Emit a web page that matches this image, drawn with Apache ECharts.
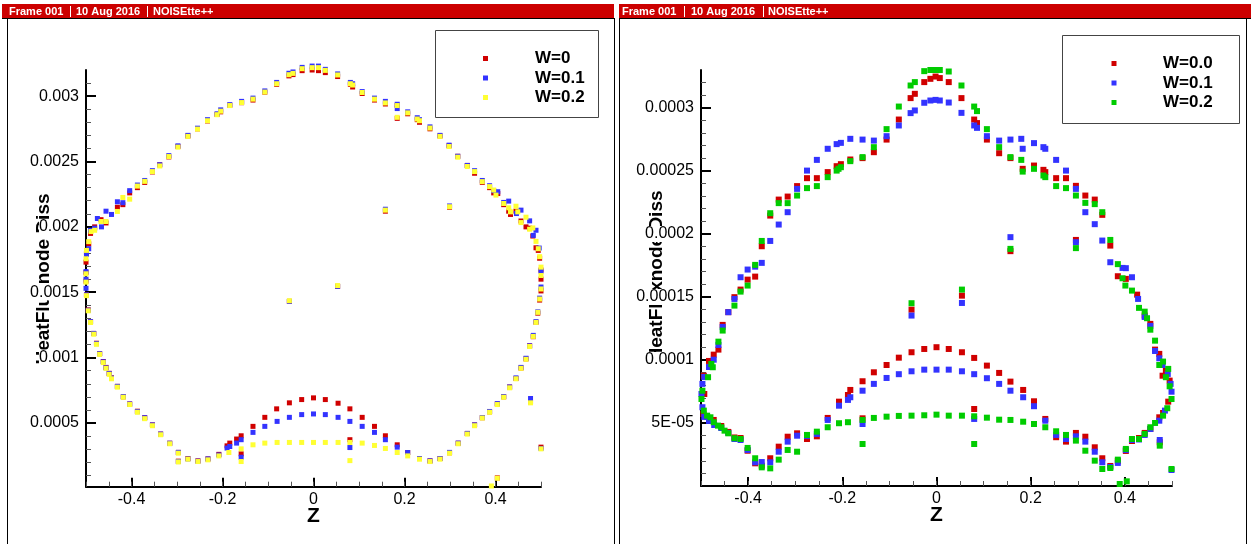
<!DOCTYPE html>
<html><head><meta charset="utf-8">
<script src="https://cdn.jsdelivr.net/npm/echarts@6/dist/echarts.min.js"></script>
<style>html,body{margin:0;padding:0;background:#fff;overflow:hidden}#c{width:1253px;height:544px}</style>
</head><body><div id="c"></div>
<script>
// ---------- DATA ----------
const leftSeriesNames = ['W=0', 'W=0.1', 'W=0.2'];
const rightSeriesNames = ['W=0.0', 'W=0.1', 'W=0.2'];

const leftW0 = [[-0.5,17.3e-4],[-0.499,18.0e-4],[-0.494,18.7e-4],[-0.49,19.5e-4],[-0.481,20.0e-4],[-0.467,20.55e-4],[-0.456,20.3e-4],[-0.431,21.5e-4],[-0.419,21.7e-4],[-0.404,22.6e-4],[-0.387,23.0e-4],[-0.371,23.4e-4],[-0.354,24.2e-4],[-0.338,24.75e-4],[-0.318,25.35e-4],[-0.298,26.15e-4],[-0.276,26.95e-4],[-0.255,27.5e-4],[-0.233,28.1e-4],[-0.212,28.6e-4],[-0.204,28.8e-4],[-0.184,29.3e-4],[-0.158,29.5e-4],[-0.133,29.7e-4],[-0.107,30.3e-4],[-0.081,30.9e-4],[-0.054,31.55e-4],[-0.045,31.65e-4],[-0.025,31.95e-4],[-0.003,32.0e-4],[0.011,31.95e-4],[0.026,31.8e-4],[0.053,31.5e-4],[0.081,30.9e-4],[0.086,30.7e-4],[0.107,30.2e-4],[0.134,29.7e-4],[0.158,29.4e-4],[0.184,29.3e-4],[0.207,28.65e-4],[0.228,28.2e-4],[0.233,28.0e-4],[0.256,27.5e-4],[0.278,26.95e-4],[0.298,26.2e-4],[0.317,25.4e-4],[0.338,24.7e-4],[0.354,24.1e-4],[0.371,23.4e-4],[0.387,23.0e-4],[0.396,22.6e-4],[0.405,22.55e-4],[0.418,21.7e-4],[0.429,21.2e-4],[0.433,20.95e-4],[0.445,21.2e-4],[0.456,20.45e-4],[0.467,20.0e-4],[0.475,19.9e-4],[0.482,19.3e-4],[0.489,18.4e-4],[0.494,18.2e-4],[0.497,17.6e-4],[0.5,16.7e-4],
[0.5,16.0e-4],[0.5,15.1e-4],[0.497,14.4e-4],[0.493,13.4e-4],[0.489,12.7e-4],[0.483,11.6e-4],[0.475,10.9e-4],[0.467,9.9e-4],[0.456,9.2e-4],[0.445,8.4e-4],[0.431,7.75e-4],[0.418,7.0e-4],[0.404,6.45e-4],[0.387,5.85e-4],[0.371,5.4e-4],[0.354,4.85e-4],[0.338,4.2e-4],[0.318,3.45e-4],[0.299,2.72e-4],[0.278,2.28e-4],[0.256,2.1e-4],[0.233,2.28e-4],
[0.207,2.74e-4],[0.184,3.33e-4],[0.158,4.02e-4],[0.134,4.74e-4],[0.107,5.43e-4],[0.080,6.08e-4],[0.054,6.51e-4],[0.026,6.79e-4],[0,6.92e-4],[-0.026,6.79e-4],[-0.053,6.54e-4],[-0.081,6.08e-4],[-0.107,5.43e-4],[-0.133,4.74e-4],[-0.159,4.02e-4],[-0.169,3.77e-4],[-0.184,3.46e-4],[-0.190,3.25e-4],[-0.159,2.64e-4],[-0.208,2.6e-4],[-0.232,2.25e-4],[-0.254,2.1e-4],[-0.276,2.28e-4],[-0.297,2.75e-4],[-0.297,2.08e-4],[-0.316,3.45e-4],[-0.336,4.15e-4],[-0.354,4.85e-4],[-0.371,5.4e-4],[-0.387,5.9e-4],[-0.404,6.45e-4],[-0.418,7.0e-4],[-0.431,7.8e-4],[-0.444,8.45e-4],[-0.449,8.8e-4],[-0.456,9.25e-4],[-0.462,9.7e-4],[-0.470,10.3e-4],[-0.477,11.1e-4],[-0.483,11.85e-4],[-0.490,12.75e-4],[-0.495,13.65e-4],[-0.499,14.8e-4],[-0.5,15.85e-4],[-0.5,16.5e-4],
[-0.053,14.3e-4],[0.053,15.45e-4],[0.158,21.2e-4],[0.299,21.5e-4],[0.184,28.3e-4],[0.477,6.6e-4],[0.5,3.15e-4],[0.080,3.72e-4],[0.404,0.8e-4]];

const leftW01 = [[-0.5,16.58e-4],[-0.499,17.9e-4],[-0.494,18.33e-4],[-0.49,19.74e-4],[-0.481,19.9e-4],[-0.475,20.64e-4],[-0.466,20.0e-4],[-0.456,21.2e-4],[-0.444,20.95e-4],[-0.431,21.92e-4],[-0.419,21.85e-4],[-0.404,22.77e-4],[-0.387,23.2e-4],[-0.371,23.55e-4],[-0.354,24.3e-4],[-0.338,24.75e-4],[-0.318,25.45e-4],[-0.298,26.2e-4],[-0.276,27.0e-4],[-0.255,27.55e-4],[-0.233,28.2e-4],[-0.212,28.65e-4],[-0.204,28.95e-4],[-0.184,29.35e-4],[-0.158,29.6e-4],[-0.133,29.85e-4],[-0.107,30.4e-4],[-0.081,31.05e-4],[-0.054,31.75e-4],[-0.045,31.85e-4],[-0.025,32.2e-4],[-0.003,32.3e-4],[0.011,32.3e-4],[0.026,32.05e-4],[0.053,31.7e-4],[0.081,31.05e-4],[0.086,30.95e-4],[0.107,30.35e-4],[0.134,29.85e-4],[0.158,29.6e-4],[0.184,29.38e-4],[0.207,28.8e-4],[0.228,28.35e-4],[0.233,28.2e-4],[0.256,27.65e-4],[0.278,27.0e-4],[0.298,26.25e-4],[0.317,25.4e-4],[0.338,24.7e-4],[0.354,24.3e-4],[0.371,23.55e-4],[0.387,23.15e-4],[0.396,22.77e-4],[0.405,22.69e-4],[0.418,21.87e-4],[0.429,21.97e-4],[0.446,21.02e-4],[0.456,21.28e-4],[0.475,20.46e-4],[0.483,19.35e-4],[0.489,19.74e-4],[0.496,18.38e-4],[0.5,16.62e-4],
[0.5,15.4e-4],[0.497,14.55e-4],[0.493,13.5e-4],[0.489,12.75e-4],[0.483,11.7e-4],[0.475,10.9e-4],[0.467,9.95e-4],[0.456,9.25e-4],[0.445,8.45e-4],[0.431,7.75e-4],[0.418,7.02e-4],[0.404,6.48e-4],[0.387,5.88e-4],[0.371,5.42e-4],[0.354,4.85e-4],[0.338,4.2e-4],[0.318,3.46e-4],[0.299,2.75e-4],[0.278,2.28e-4],[0.256,2.1e-4],[0.233,2.28e-4],
[0.207,2.74e-4],[0.184,3.15e-4],[0.158,3.72e-4],[0.134,4.28e-4],[0.107,4.74e-4],[0.080,5.12e-4],[0.054,5.43e-4],[0.026,5.64e-4],[0,5.69e-4],[-0.026,5.64e-4],[-0.053,5.43e-4],[-0.080,5.12e-4],[-0.107,4.74e-4],[-0.133,4.28e-4],[-0.159,3.72e-4],[-0.169,3.46e-4],[-0.184,3.2e-4],[-0.190,3.08e-4],[-0.159,2.38e-4],[-0.208,2.55e-4],[-0.232,2.25e-4],[-0.254,2.08e-4],[-0.276,2.25e-4],[-0.297,2.75e-4],[-0.297,2.05e-4],[-0.316,3.45e-4],[-0.336,4.15e-4],[-0.354,4.85e-4],[-0.371,5.4e-4],[-0.387,5.87e-4],[-0.404,6.45e-4],[-0.418,7.02e-4],[-0.431,7.8e-4],[-0.444,8.43e-4],[-0.449,8.78e-4],[-0.456,9.22e-4],[-0.462,9.68e-4],[-0.470,10.3e-4],[-0.477,11.07e-4],[-0.483,11.85e-4],[-0.490,12.75e-4],[-0.495,13.62e-4],[-0.499,14.8e-4],[-0.5,15.3e-4],[-0.5,16.0e-4],
[-0.053,14.3e-4],[0.053,15.45e-4],[0.158,21.35e-4],[0.299,21.6e-4],[0.184,29.05e-4],[0.477,6.87e-4],[0.5,3.05e-4],[0.080,3.12e-4]];

const leftW02 = [[-0.5,17.56e-4],[-0.499,18.20e-4],[-0.494,18.87e-4],[-0.489,19.64e-4],[-0.481,19.74e-4],[-0.467,20.41e-4],[-0.456,20.41e-4],[-0.431,21.18e-4],[-0.419,22.25e-4],[-0.404,22.12e-4],[-0.387,23.12e-4],[-0.371,23.48e-4],[-0.354,24.23e-4],[-0.338,24.66e-4],[-0.318,25.38e-4],[-0.298,26.10e-4],[-0.276,26.92e-4],[-0.255,27.48e-4],[-0.233,28.12e-4],[-0.212,28.58e-4],[-0.204,28.85e-4],[-0.184,29.28e-4],[-0.158,29.51e-4],[-0.133,29.77e-4],[-0.107,30.31e-4],[-0.081,30.95e-4],[-0.054,31.64e-4],[-0.045,31.74e-4],[-0.025,32.10e-4],[-0.003,32.18e-4],[0.011,32.18e-4],[0.026,31.97e-4],[0.053,31.62e-4],[0.081,30.95e-4],[0.086,30.85e-4],[0.107,30.28e-4],[0.134,29.77e-4],[0.158,29.48e-4],[0.184,29.28e-4],[0.207,28.72e-4],[0.228,28.25e-4],[0.233,28.12e-4],[0.256,27.56e-4],[0.278,26.92e-4],[0.298,26.15e-4],[0.317,25.33e-4],[0.338,24.62e-4],[0.354,24.23e-4],[0.371,23.46e-4],[0.387,23.08e-4],[0.396,22.82e-4],[0.401,22.43e-4],[0.418,21.79e-4],[0.429,21.46e-4],[0.433,21.15e-4],[0.445,21.58e-4],[0.449,21.15e-4],[0.456,20.33e-4],[0.467,20.74e-4],[0.475,19.82e-4],[0.482,19.92e-4],[0.489,18.89e-4],[0.494,18.33e-4],[0.497,17.72e-4],[0.5,16.92e-4],[0.5,16.28e-4],
[0.5,15.25e-4],[0.497,14.48e-4],[0.493,13.46e-4],[0.489,12.69e-4],[0.483,11.62e-4],[0.475,10.85e-4],[0.467,9.87e-4],[0.456,9.18e-4],[0.445,8.38e-4],[0.431,7.69e-4],[0.418,6.97e-4],[0.404,6.41e-4],[0.387,5.82e-4],[0.371,5.38e-4],[0.354,4.79e-4],[0.338,4.15e-4],[0.318,3.41e-4],[0.299,2.69e-4],[0.278,2.23e-4],[0.256,2.05e-4],[0.233,2.23e-4],[0.207,2.48e-4],[0.184,2.74e-4],[0.158,3.05e-4],[0.134,3.28e-4],[0.107,3.46e-4],[0.080,3.51e-4],[0.054,3.51e-4],[0.026,3.51e-4],[0,3.51e-4],[-0.026,3.51e-4],[-0.053,3.51e-4],[-0.080,3.51e-4],[-0.107,3.46e-4],[-0.133,3.33e-4],[-0.159,3.02e-4],[-0.159,2.05e-4],[-0.186,2.74e-4],[-0.208,2.48e-4],[-0.232,2.18e-4],[-0.254,2.05e-4],[-0.276,2.23e-4],[-0.297,2.69e-4],[-0.297,2.02e-4],[-0.316,3.41e-4],[-0.336,4.10e-4],[-0.354,4.79e-4],[-0.371,5.33e-4],[-0.387,5.82e-4],[-0.404,6.41e-4],[-0.418,6.97e-4],[-0.431,7.74e-4],[-0.444,8.38e-4],[-0.449,8.72e-4],[-0.456,9.18e-4],[-0.462,9.62e-4],[-0.470,10.25e-4],[-0.477,11.02e-4],[-0.483,11.79e-4],[-0.490,12.69e-4],[-0.495,13.58e-4],[-0.499,14.74e-4],[-0.5,15.77e-4],[-0.5,16.41e-4],
[-0.053,14.35e-4],[0.053,15.51e-4],[0.158,21.28e-4],[0.299,21.54e-4],[0.184,28.38e-4],[0.477,6.54e-4],[0.5,3.02e-4],[0.080,2.12e-4],[0.404,0.77e-4],[0.391,0.18e-4]];

const rightW00 = [[-0.494,8.75e-5],[-0.493,7.30e-5],[-0.495,5.71e-5],[-0.487,5.48e-5],[-0.473,5.24e-5],[-0.457,4.76e-5],[-0.442,4.29e-5],[-0.429,3.85e-5],[-0.416,3.81e-5],[-0.401,2.80e-5],[-0.385,1.80e-5],[-0.371,1.61e-5],[-0.353,2.20e-5],[-0.335,3.12e-5],[-0.316,3.91e-5],[-0.296,4.18e-5],[-0.275,3.73e-5],[-0.254,3.94e-5],[-0.231,5.40e-5],[-0.207,6.69e-5],[-0.188,7.22e-5],[-0.183,7.62e-5],[-0.157,8.31e-5],[-0.133,9.02e-5],[-0.106,9.60e-5],[-0.080,10.18e-5],[-0.053,10.61e-5],[-0.026,10.87e-5],[0,11.01e-5],[0.026,10.87e-5],[0.054,10.61e-5],[0.080,10.16e-5],[0.107,9.55e-5],[0.133,8.97e-5],[0.157,8.28e-5],[0.184,7.62e-5],[0.207,6.72e-5],[0.231,5.32e-5],[0.254,3.87e-5],[0.275,3.52e-5],[0.296,4.21e-5],[0.316,3.91e-5],[0.336,3.07e-5],[0.352,2.20e-5],[0.369,1.59e-5],[0.385,1.98e-5],[0.402,2.78e-5],[0.415,3.57e-5],[0.430,3.81e-5],[0.442,4.21e-5],[0.454,4.52e-5],[0.473,5.45e-5],[0.481,5.79e-5],[0.492,6.69e-5],[0.495,8.36e-5],[0.480,8.75e-5],[0.487,9.13e-5],[0.473,10.48e-5],[0.464,10.82e-5],[0.454,12.86e-5],[0.442,13.52e-5],[0.426,15.18e-5],[0.402,16.43e-5],[0.385,16.64e-5],[0.369,19.07e-5],[0.352,21.51e-5],[0.336,22.72e-5],[0.316,23.04e-5],[0.296,23.81e-5],[0.275,24.42e-5],[0.254,24.42e-5],[0.231,24.90e-5],[0.227,25.08e-5],[0.207,25.42e-5],[0.183,25.16e-5],[0.157,26.01e-5],[0.133,26.40e-5],[0.107,27.48e-5],[0.086,28.79e-5],[0.080,29.07e-5],[0.053,30.77e-5],[0.026,32.04e-5],[0.007,32.36e-5],[-0.002,32.48e-5],[-0.013,32.30e-5],[-0.026,32.04e-5],[-0.046,31.11e-5],[-0.055,30.77e-5],[-0.080,29.07e-5],[-0.106,27.48e-5],[-0.133,26.48e-5],[-0.157,26.01e-5],[-0.183,25.90e-5],[-0.203,25.53e-5],[-0.212,25.37e-5],[-0.231,24.90e-5],[-0.254,24.42e-5],[-0.275,24.42e-5],[-0.296,23.79e-5],[-0.316,22.96e-5],[-0.335,22.72e-5],[-0.353,21.45e-5],[-0.371,19.02e-5],[-0.385,16.61e-5],[-0.401,16.37e-5],[-0.416,15.58e-5],[-0.429,14.98e-5],[-0.442,13.79e-5],[-0.454,12.78e-5],[-0.463,10.82e-5],[-0.473,10.42e-5],[-0.483,9.92e-5],
[0.054,15.10e-5],[0.080,6.11e-5],[0.157,18.63e-5],[0.296,19.52e-5],[-0.053,13.99e-5],[-0.157,5.37e-5],[0.474,3.47e-5]];

const rightW01 = [[-0.497,8.10e-5],[-0.499,7.30e-5],[-0.497,6.25e-5],[-0.493,5.48e-5],[-0.483,5.16e-5],[-0.472,4.84e-5],[-0.457,4.60e-5],[-0.442,4.21e-5],[-0.429,3.73e-5],[-0.416,3.65e-5],[-0.401,2.86e-5],[-0.385,1.88e-5],[-0.371,1.90e-5],[-0.353,1.88e-5],[-0.335,2.72e-5],[-0.316,3.52e-5],[-0.296,3.99e-5],[-0.275,3.97e-5],[-0.254,4.13e-5],[-0.231,5.24e-5],[-0.207,6.37e-5],[-0.188,6.83e-5],[-0.183,7.04e-5],[-0.157,7.56e-5],[-0.133,8.10e-5],[-0.106,8.57e-5],[-0.080,8.87e-5],[-0.053,9.10e-5],[-0.026,9.23e-5],[0,9.23e-5],[0.026,9.23e-5],[0.054,9.10e-5],[0.080,8.87e-5],[0.107,8.55e-5],[0.133,8.10e-5],[0.157,7.56e-5],[0.184,7.04e-5],[0.207,6.33e-5],[0.231,5.18e-5],[0.254,4.05e-5],[0.275,3.73e-5],[0.296,3.94e-5],[0.316,3.52e-5],[0.336,2.72e-5],[0.352,1.88e-5],[0.369,1.51e-5],[0.385,1.83e-5],[0.402,2.86e-5],[0.415,3.65e-5],[0.430,3.69e-5],[0.442,4.05e-5],[0.454,4.52e-5],[0.473,5.18e-5],[0.485,5.98e-5],[0.499,7.48e-5],[0.497,8.10e-5],[0.491,8.89e-5],[0.480,9.60e-5],[0.473,10.13e-5],[0.464,10.71e-5],[0.454,12.70e-5],[0.442,13.41e-5],[0.428,14.84e-5],[0.415,16.56e-5],[0.402,17.28e-5],[0.395,17.30e-5],[0.369,17.75e-5],[0.352,19.47e-5],[0.336,20.77e-5],[0.316,21.72e-5],[0.296,23.57e-5],[0.275,25.02e-5],[0.254,25.87e-5],[0.231,26.75e-5],[0.227,26.88e-5],[0.207,27.20e-5],[0.183,26.75e-5],[0.180,27.54e-5],[0.157,27.48e-5],[0.133,27.40e-5],[0.107,27.75e-5],[0.086,28.41e-5],[0.080,28.60e-5],[0.053,29.60e-5],[0.026,30.42e-5],[0.007,30.58e-5],[-0.002,30.63e-5],[-0.013,30.58e-5],[-0.026,30.40e-5],[-0.046,29.79e-5],[-0.055,29.58e-5],[-0.080,28.60e-5],[-0.106,27.75e-5],[-0.133,27.40e-5],[-0.157,27.48e-5],[-0.183,27.54e-5],[-0.203,27.22e-5],[-0.212,27.12e-5],[-0.231,26.75e-5],[-0.254,25.87e-5],[-0.275,25.02e-5],[-0.296,23.57e-5],[-0.316,21.72e-5],[-0.335,20.74e-5],[-0.353,19.44e-5],[-0.371,17.70e-5],[-0.385,17.40e-5],[-0.401,17.17e-5],[-0.416,16.56e-5],[-0.429,14.84e-5],[-0.442,13.79e-5],[-0.454,12.62e-5],[-0.463,11.19e-5],[-0.473,10.02e-5],[-0.483,9.44e-5],[-0.493,8.65e-5],
[0.054,14.52e-5],[0.080,5.32e-5],[0.157,19.74e-5],[0.296,19.34e-5],[-0.053,13.52e-5],[-0.157,4.92e-5],[0.499,1.27e-5],[0.474,3.65e-5]];

const rightW02 = [[-0.497,7.56e-5],[-0.499,6.90e-5],[-0.494,5.98e-5],[-0.487,5.58e-5],[-0.480,5.45e-5],[-0.473,5.06e-5],[-0.464,4.79e-5],[-0.457,4.66e-5],[-0.450,4.39e-5],[-0.442,4.18e-5],[-0.429,3.79e-5],[-0.416,3.73e-5],[-0.401,3.02e-5],[-0.385,2.20e-5],[-0.371,1.48e-5],[-0.353,1.40e-5],[-0.335,2.09e-5],[-0.316,2.86e-5],[-0.296,2.72e-5],[-0.275,4.05e-5],[-0.254,4.31e-5],[-0.231,4.66e-5],[-0.207,4.98e-5],[-0.188,5.06e-5],[-0.157,5.24e-5],[-0.133,5.40e-5],[-0.106,5.50e-5],[-0.080,5.56e-5],[-0.053,5.58e-5],[-0.026,5.61e-5],[0,5.66e-5],[0.026,5.58e-5],[0.054,5.58e-5],[0.080,5.53e-5],[0.107,5.42e-5],[0.133,5.26e-5],[0.157,5.24e-5],[0.184,5.10e-5],[0.207,4.92e-5],[0.231,4.66e-5],[0.254,4.34e-5],[0.275,4.05e-5],[0.296,3.60e-5],[0.316,2.80e-5],[0.336,2.01e-5],[0.352,1.35e-5],[0.369,1.43e-5],[0.385,2.09e-5],[0.402,2.94e-5],[0.415,3.73e-5],[0.430,3.73e-5],[0.442,4.13e-5],[0.454,4.66e-5],[0.464,5.00e-5],[0.481,5.58e-5],[0.490,6.17e-5],[0.499,6.90e-5],[0.495,7.91e-5],[0.487,8.63e-5],[0.492,9.29e-5],[0.481,9.87e-5],[0.473,9.60e-5],[0.464,11.53e-5],[0.454,12.40e-5],[0.447,13.31e-5],[0.442,13.83e-5],[0.430,14.13e-5],[0.415,15.50e-5],[0.401,15.90e-5],[0.395,16.48e-5],[0.385,17.60e-5],[0.369,19.52e-5],[0.352,21.72e-5],[0.336,22.36e-5],[0.316,22.46e-5],[0.296,23.04e-5],[0.275,23.63e-5],[0.254,23.79e-5],[0.231,24.50e-5],[0.227,24.63e-5],[0.207,25.16e-5],[0.183,24.94e-5],[0.180,25.87e-5],[0.157,26.09e-5],[0.133,26.88e-5],[0.107,28.31e-5],[0.086,29.74e-5],[0.080,30.10e-5],[0.053,31.77e-5],[0.026,32.88e-5],[0.007,33.0e-5],[-0.002,33.0e-5],[-0.013,33.0e-5],[-0.026,32.91e-5],[-0.046,32.04e-5],[-0.055,31.77e-5],[-0.080,30.10e-5],[-0.106,28.31e-5],[-0.133,26.88e-5],[-0.157,26.09e-5],[-0.183,25.77e-5],[-0.203,25.29e-5],[-0.208,25.16e-5],[-0.212,25.02e-5],[-0.231,24.50e-5],[-0.254,23.79e-5],[-0.275,23.63e-5],[-0.296,23.04e-5],[-0.316,22.44e-5],[-0.335,22.44e-5],[-0.353,21.64e-5],[-0.371,19.44e-5],[-0.385,17.54e-5],[-0.401,15.90e-5],[-0.416,15.42e-5],[-0.429,14.31e-5],[-0.454,12.33e-5],[-0.463,11.45e-5],[-0.478,9.68e-5],[-0.475,9.42e-5],[-0.485,8.63e-5],
[0.054,15.58e-5],[0.080,3.33e-5],[0.157,18.81e-5],[0.296,18.87e-5],[-0.053,14.50e-5],[-0.157,3.33e-5],[0.474,3.20e-5],[0.499,1.35e-5],[0.389,0.16e-5],[0.404,0.37e-5]];

const xTicks = [-0.4, -0.2, 0, 0.2, 0.4];
const xTickLabels = ['-0.4', '-0.2', '0', '0.2', '0.4'];
const leftYTicks = [0.0005, 0.001, 0.0015, 0.002, 0.0025, 0.003];
const leftYTickLabels = ['0.0005', '0.001', '0.0015', '0.002', '0.0025', '0.003'];
const rightYTicks = [0.00005, 0.0001, 0.00015, 0.0002, 0.00025, 0.0003];
const rightYTickLabels = ['5E-05', '0.0001', '0.00015', '0.0002', '0.00025', '0.0003'];
const xTitle = 'Z';
const yTitle = 'HeatFluxnode Diss';
const headerParts = ['Frame 001', '10 Aug 2016', 'NOISEtte++'];

// ---------- STYLE ----------
const FONT = "'Liberation Sans', Arial, Helvetica, sans-serif";
const COL = { red: '#d00000', blue: '#3333ff', yellow: '#ffff33', green: '#00cc00', bar: '#cc0000' };

function labelFmt(ticks, labels) {
  return function (v) {
    for (let i = 0; i < ticks.length; i++) if (Math.abs(v - ticks[i]) < Math.abs(ticks[i]) * 1e-6 + 1e-15) return labels[i];
    return '';
  };
}
function minorList(step, count, majorEvery) {
  const out = [];
  for (let k = 1; k <= count; k++) if (k % majorEvery !== 0) out.push(+(k * step).toPrecision(6));
  return out;
}
const leftYMinor = minorList(0.0001, 31, 5);
const rightYMinor = minorList(0.00001, 32, 5);

function majorX(grid) {
  return {
    gridIndex: grid, type: 'value', position: 'bottom', min: -0.5, max: 0.5,
    axisLine: { show: true, onZero: false, lineStyle: { color: '#000', width: 2 } },
    axisTick: { show: true, inside: true, length: 9, customValues: xTicks, lineStyle: { color: '#000', width: 2 } },
    axisLabel: { customValues: xTicks, formatter: labelFmt(xTicks, xTickLabels), color: '#000', fontSize: 16, fontFamily: FONT, margin: 5 },
    splitLine: { show: false },
    name: xTitle, nameLocation: 'middle', nameGap: 19, nameMoveOverlap: false,
    nameTextStyle: { fontSize: 21, fontWeight: 'bold', color: '#000', fontFamily: FONT }
  };
}
function minorX(grid) {
  return {
    gridIndex: grid, type: 'value', position: 'bottom', min: -0.5, max: 0.5, interval: 0.05,
    axisLine: { show: false, onZero: false }, axisLabel: { show: false }, splitLine: { show: false },
    axisTick: { show: true, inside: true, length: 5, lineStyle: { color: '#555', width: 1 } }
  };
}
function majorY(grid, min, max, ticks, labels) {
  return {
    gridIndex: grid, type: 'value', position: 'left', min: min, max: max,
    axisLine: { show: true, onZero: false, lineStyle: { color: '#000', width: 2 } },
    axisTick: { show: true, inside: true, length: 10, customValues: ticks, lineStyle: { color: '#000', width: 2 } },
    axisLabel: { customValues: ticks, formatter: labelFmt(ticks, labels), color: '#000', fontSize: 16, fontFamily: FONT, margin: 7,
                 backgroundColor: '#fff', padding: [0, 0, 0, 0] },
    splitLine: { show: false }
  };
}
function minorY(grid, min, max, ticks) {
  return {
    gridIndex: grid, type: 'value', position: 'left', min: min, max: max,
    axisLine: { show: false, onZero: false }, axisLabel: { show: false }, splitLine: { show: false },
    axisTick: { show: true, inside: true, length: 5, customValues: ticks, lineStyle: { color: '#555', width: 1 } }
  };
}
function toPts(arr) { return arr.map(p => [p[0], p[1]]); }
function sc(name, data, color, xi, yi, size) {
  return { name: name, type: 'scatter', data: toPts(data), xAxisIndex: xi, yAxisIndex: yi, symbol: 'rect', symbolSize: size,
           clip: false, itemStyle: { color: color, opacity: 1 }, silent: true, animation: false };
}

// header / frames / legends / y titles as graphic
function header(x0, w, xs, seps) {
  const els = [];
  els.push({ type: 'rect', shape: { x: x0, y: 4, width: w, height: 14 }, style: { fill: COL.bar }, z: 10 });
  els.push({ type: 'line', shape: { x1: x0, y1: 18.5, x2: x0 + w, y2: 18.5 }, style: { stroke: '#000', lineWidth: 1 }, z: 11 });
  headerParts.forEach((t, i) => els.push({ type: 'text', x: xs[i], y: 11.5, style: { text: t, fill: '#fff', font: 'bold 11px ' + FONT, textVerticalAlign: 'middle', textAlign: 'left' }, z: 12 }));
  seps.forEach(s => els.push({ type: 'line', shape: { x1: s + 0.5, y1: 6, x2: s + 0.5, y2: 17 }, style: { stroke: '#fff', lineWidth: 1 }, z: 12 }));
  return els;
}
function legend(x, y, w, h, mx, tx, ys, names, colors) {
  const els = [{ type: 'rect', shape: { x: x + 0.5, y: y + 0.5, width: w, height: h }, style: { fill: '#fff', stroke: '#444', lineWidth: 1 }, z: 20 }];
  names.forEach((n, i) => {
    els.push({ type: 'rect', shape: { x: mx - 2.5, y: ys[i] - 2.5, width: 5, height: 5 }, style: { fill: colors[i] }, z: 21 });
    els.push({ type: 'text', x: tx, y: ys[i], style: { text: n, fill: '#000', font: 'bold 17px ' + FONT, textVerticalAlign: 'middle', textAlign: 'left' }, z: 21 });
  });
  return els;
}
function yName(cx, cy) {
  return { type: 'text', x: cx, y: cy, rotation: Math.PI / 2, z: -5,
           style: { text: yTitle, fill: '#000', font: 'bold 19px ' + FONT, textAlign: 'center', textVerticalAlign: 'middle' } };
}

const graphics = [].concat(
  [yName(44, 279), yName(657, 276),
   { type: 'line', shape: { x1: 7.5, y1: 18, x2: 7.5, y2: 544 }, style: { stroke: '#000', lineWidth: 1 } },
   { type: 'line', shape: { x1: 614.5, y1: 18, x2: 614.5, y2: 544 }, style: { stroke: '#000', lineWidth: 1 } },
   { type: 'line', shape: { x1: 619.5, y1: 18, x2: 619.5, y2: 544 }, style: { stroke: '#000', lineWidth: 1 } },
   { type: 'line', shape: { x1: 1246.5, y1: 18, x2: 1246.5, y2: 544 }, style: { stroke: '#000', lineWidth: 1 } }],
  header(2, 612, [9, 76, 153], [70, 147]),
  header(619, 632, [622, 691, 768], [684, 763]),
  legend(435, 30, 163, 87, 485.5, 535, [58.5, 78, 97.5], leftSeriesNames, [COL.red, COL.blue, COL.yellow]),
  legend(1062, 35, 177, 88, 1114, 1163, [63.5, 83, 102.5], rightSeriesNames, [COL.red, COL.blue, COL.green])
);

const option = {
  backgroundColor: '#fff',
  animation: false,
  grid: [
    { left: 86, top: 70, width: 455, height: 416.7 },
    { left: 701, top: 70, width: 471, height: 416 }
  ],
  xAxis: [majorX(0), minorX(0), majorX(1), minorX(1)],
  yAxis: [
    majorY(0, 0.0000125, 0.0032, leftYTicks, leftYTickLabels),
    minorY(0, 0.0000125, 0.0032, leftYMinor),
    majorY(1, 0, 0.00033, rightYTicks, rightYTickLabels),
    minorY(1, 0, 0.00033, rightYMinor)
  ],
  series: [
    sc(leftSeriesNames[0], leftW0, COL.red, 0, 0, 5),
    sc(leftSeriesNames[1], leftW01, COL.blue, 0, 0, 5),
    sc(leftSeriesNames[2], leftW02, COL.yellow, 0, 0, 5),
    sc(rightSeriesNames[0], rightW00, COL.red, 2, 2, 6),
    sc(rightSeriesNames[1], rightW01, COL.blue, 2, 2, 6),
    sc(rightSeriesNames[2], rightW02, COL.green, 2, 2, 6)
  ],
  graphic: graphics
};
const chart = echarts.init(document.getElementById('c'), null, { renderer: 'canvas' });
chart.setOption(option);
</script></body></html>
